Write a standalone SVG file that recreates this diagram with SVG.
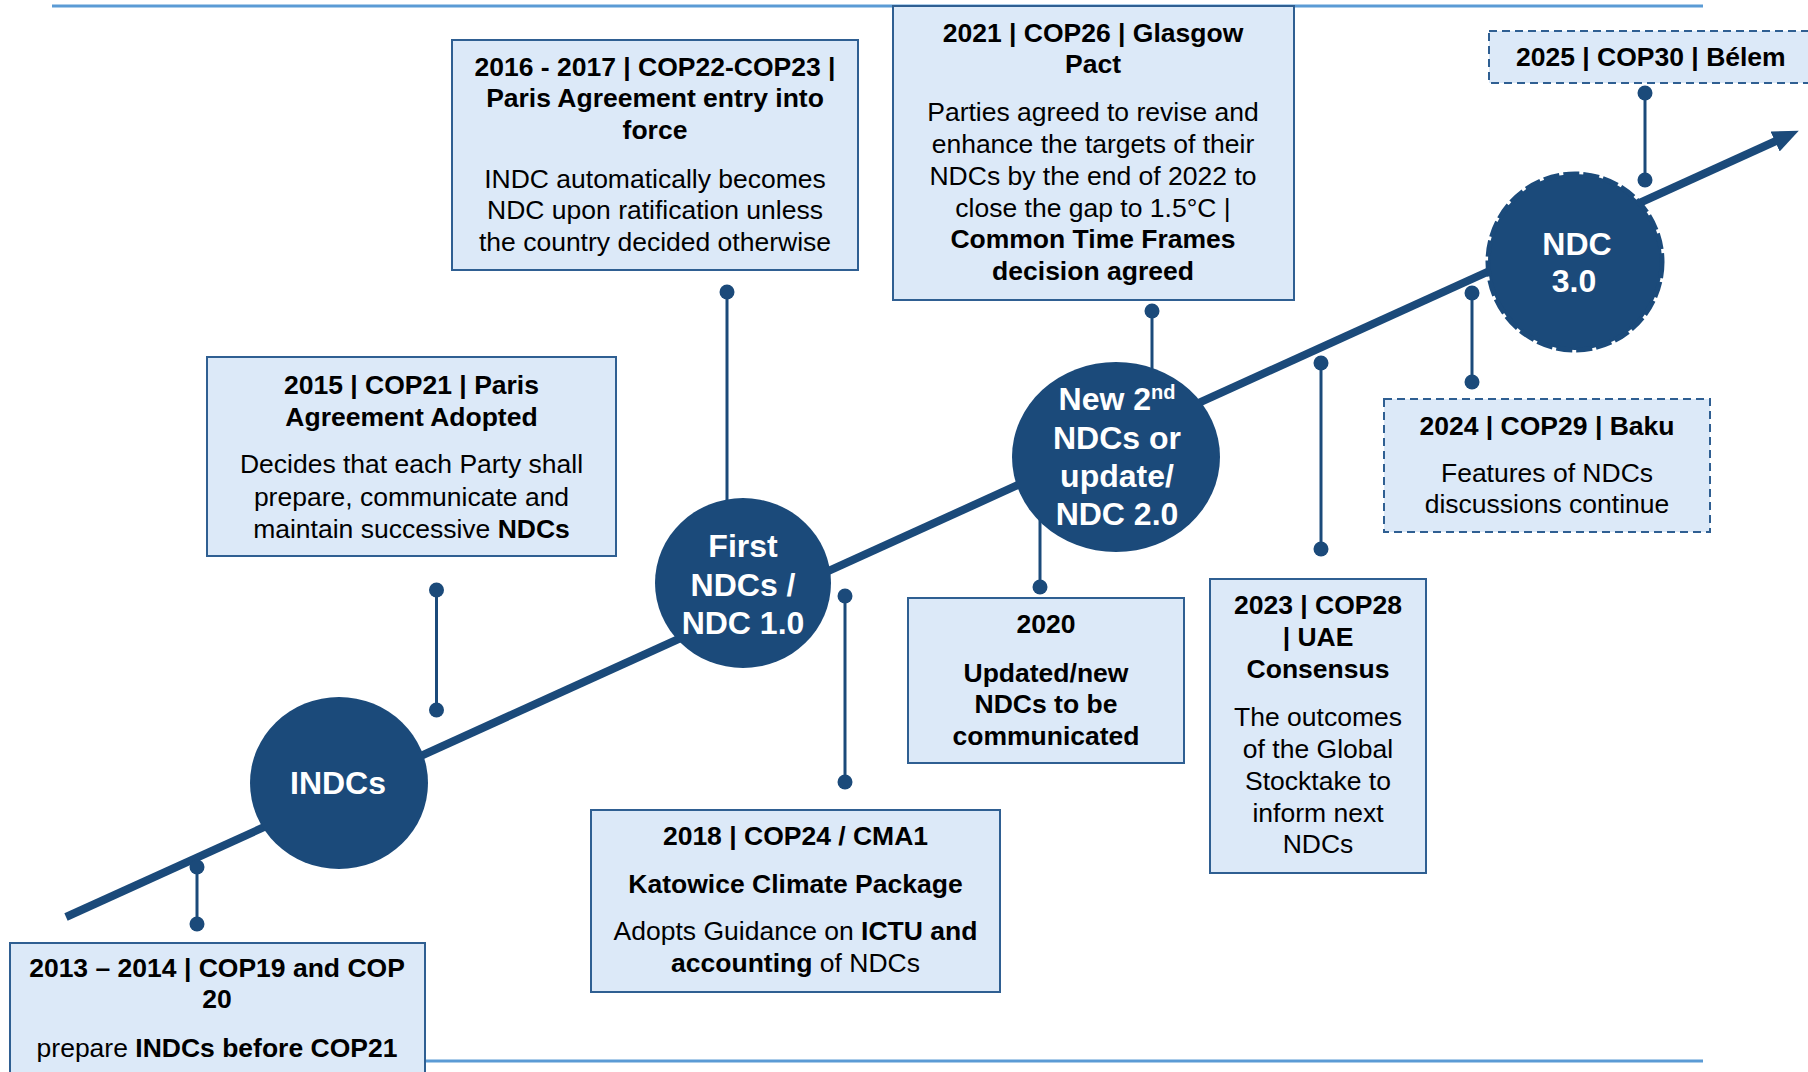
<svg xmlns="http://www.w3.org/2000/svg" width="1808" height="1072" viewBox="0 0 1808 1072">
<style>
.rule{stroke:#5b9bd5;stroke-width:3;fill:none}
.main{stroke:#1b4a7a;stroke-width:8;fill:none}
.conn{stroke:#1b4a7a;stroke-width:3;fill:none}
.dot{fill:#1b4a7a}
.circ{fill:#1b4a7a}
.box{fill:#dce9f8;stroke:#2f5f92;stroke-width:2}
.dbox{fill:#dce9f8;stroke:#2f5f92;stroke-width:2;stroke-dasharray:8 5}
.t{font-family:"Liberation Sans",Arial,sans-serif;font-size:26.5px;fill:#000;text-anchor:middle}
.b{font-weight:bold}
.ct{font-family:"Liberation Sans",Arial,sans-serif;font-size:32px;font-weight:bold;fill:#fff;text-anchor:middle}
</style>
<defs>
<marker id="arrow" markerUnits="userSpaceOnUse" markerWidth="30" markerHeight="24" refX="1" refY="11" orient="auto">
<path d="M0,0 L26,11 L0,22 z" fill="#1b4a7a"/>
</marker>
</defs>
<rect width="1808" height="1072" fill="#fff"/>
<line class="rule" x1="52" y1="6" x2="1703" y2="6"/>
<line class="rule" x1="52" y1="1061" x2="1703" y2="1061"/>
<g id="connectors">
<line class="main" x1="66" y1="917" x2="1776" y2="141" marker-end="url(#arrow)"/>
<line class="conn" x1="197" y1="867" x2="197" y2="924"/>
<circle class="dot" cx="197" cy="867" r="7.5"/><circle class="dot" cx="197" cy="924" r="7.5"/>
<line class="conn" x1="436.5" y1="590" x2="436.5" y2="710"/>
<circle class="dot" cx="436.5" cy="590" r="7.5"/><circle class="dot" cx="436.5" cy="710" r="7.5"/>
<line class="conn" x1="727" y1="292" x2="727" y2="560"/>
<circle class="dot" cx="727" cy="292" r="7.5"/>
<line class="conn" x1="845" y1="596" x2="845" y2="782"/>
<circle class="dot" cx="845" cy="596" r="7.5"/><circle class="dot" cx="845" cy="782" r="7.5"/>
<line class="conn" x1="1040" y1="500" x2="1040" y2="587"/>
<circle class="dot" cx="1040" cy="587" r="7.5"/>
<line class="conn" x1="1152" y1="311" x2="1152" y2="400"/>
<circle class="dot" cx="1152" cy="311" r="7.5"/>
<line class="conn" x1="1321" y1="363" x2="1321" y2="549"/>
<circle class="dot" cx="1321" cy="363" r="7.5"/><circle class="dot" cx="1321" cy="549" r="7.5"/>
<line class="conn" x1="1472" y1="293" x2="1472" y2="382"/>
<circle class="dot" cx="1472" cy="293" r="7.5"/><circle class="dot" cx="1472" cy="382" r="7.5"/>
<line class="conn" x1="1645" y1="93" x2="1645" y2="180"/>
<circle class="dot" cx="1645" cy="93" r="7.5"/><circle class="dot" cx="1645" cy="180" r="7.5"/>
</g>
<g id="circle-indcs">
<ellipse class="circ" cx="339" cy="783" rx="89" ry="86"/>
<text class="ct" x="338" y="794">INDCs</text>
</g>
<g id="circle-first">
<ellipse class="circ" cx="743" cy="583" rx="88" ry="85"/>
<text class="ct" x="743" y="557">First</text>
<text class="ct" x="743" y="596">NDCs /</text>
<text class="ct" x="743" y="634">NDC 1.0</text>
</g>
<g id="circle-second">
<ellipse class="circ" cx="1116" cy="457" rx="104" ry="95"/>
<text class="ct" x="1117" y="410">New 2<tspan font-size="20" dy="-11">nd</tspan></text>
<text class="ct" x="1117" y="449">NDCs or</text>
<text class="ct" x="1117" y="487">update/</text>
<text class="ct" x="1117" y="525">NDC 2.0</text>
</g>
<g id="circle-ndc3">
<ellipse class="circ" cx="1575" cy="262" rx="87" ry="88" stroke="#1b4a7a" stroke-width="5" stroke-dasharray="16 4"/>
<text class="ct" x="1577" y="255">NDC</text>
<text class="ct" x="1574" y="292">3.0</text>
</g>
<g id="box-2013">
<rect class="box" x="10" y="943" width="415" height="140"/>
<text class="t b" x="217" y="977">2013 – 2014 | COP19 and COP</text>
<text class="t b" x="217" y="1008">20</text>
<text class="t" x="217" y="1057">prepare <tspan class="b">INDCs before COP21</tspan></text>
</g>
<g id="box-2015">
<rect class="box" x="207" y="357" width="409" height="199"/>
<text class="t b" x="411.5" y="394">2015 | COP21 | Paris</text>
<text class="t b" x="411.5" y="426">Agreement Adopted</text>
<text class="t" x="411.5" y="473">Decides that each Party shall</text>
<text class="t" x="411.5" y="506">prepare, communicate and</text>
<text class="t" x="411.5" y="538">maintain successive <tspan class="b">NDCs</tspan></text>
</g>
<g id="box-2016">
<rect class="box" x="452" y="40" width="406" height="230"/>
<text class="t b" x="655" y="76">2016 - 2017 | COP22-COP23 |</text>
<text class="t b" x="655" y="107">Paris Agreement entry into</text>
<text class="t b" x="655" y="139">force</text>
<text class="t" x="655" y="188">INDC automatically becomes</text>
<text class="t" x="655" y="219">NDC upon ratification unless</text>
<text class="t" x="655" y="251">the country decided otherwise</text>
</g>
<g id="box-2018">
<rect class="box" x="591" y="810" width="409" height="182"/>
<text class="t b" x="795.5" y="845">2018 | COP24 / CMA1</text>
<text class="t b" x="795.5" y="893">Katowice Climate Package</text>
<text class="t" x="795.5" y="940">Adopts Guidance on <tspan class="b">ICTU and</tspan></text>
<text class="t" x="795.5" y="972"><tspan class="b">accounting</tspan> of NDCs</text>
</g>
<g id="box-2020">
<rect class="box" x="908" y="598" width="276" height="165"/>
<text class="t b" x="1046" y="633">2020</text>
<text class="t b" x="1046" y="682">Updated/new</text>
<text class="t b" x="1046" y="713">NDCs to be</text>
<text class="t b" x="1046" y="745">communicated</text>
</g>
<g id="box-2021">
<rect class="box" x="893" y="6" width="401" height="294"/>
<text class="t b" x="1093" y="42">2021 | COP26 | Glasgow</text>
<text class="t b" x="1093" y="73">Pact</text>
<text class="t" x="1093" y="121">Parties agreed to revise and</text>
<text class="t" x="1093" y="153">enhance the targets of their</text>
<text class="t" x="1093" y="185">NDCs by the end of 2022 to</text>
<text class="t" x="1093" y="217">close the gap to 1.5°C |</text>
<text class="t b" x="1093" y="248">Common Time Frames</text>
<text class="t b" x="1093" y="280">decision agreed</text>
</g>
<g id="box-2023">
<rect class="box" x="1210" y="579" width="216" height="294"/>
<text class="t b" x="1318" y="614">2023 | COP28</text>
<text class="t b" x="1318" y="646">| UAE</text>
<text class="t b" x="1318" y="678">Consensus</text>
<text class="t" x="1318" y="726">The outcomes</text>
<text class="t" x="1318" y="758">of the Global</text>
<text class="t" x="1318" y="790">Stocktake to</text>
<text class="t" x="1318" y="822">inform next</text>
<text class="t" x="1318" y="853">NDCs</text>
</g>
<g id="box-2024">
<rect class="dbox" x="1384" y="399" width="326" height="133"/>
<text class="t b" x="1547" y="435">2024 | COP29 | Baku</text>
<text class="t" x="1547" y="482">Features of NDCs</text>
<text class="t" x="1547" y="513">discussions continue</text>
</g>
<g id="box-2025">
<rect class="dbox" x="1489" y="31" width="330" height="52"/>
<text class="t b" x="1516" y="66" style="text-anchor:start">2025 | COP30 | Bélem</text>
</g>
</svg>
